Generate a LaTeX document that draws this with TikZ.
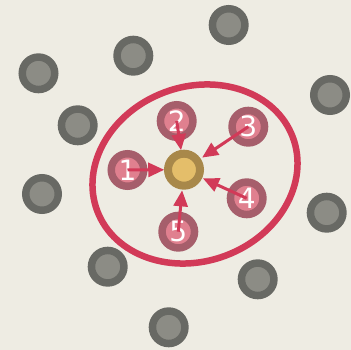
\documentclass[tikz,border=0pt]{standalone}
\usepackage{fontspec}
\setmainfont{DejaVu Sans}
\usetikzlibrary{arrows.meta}
\definecolor{bg}{HTML}{EEECE3}
\definecolor{grayout}{HTML}{686964}
\definecolor{grayin}{HTML}{8C8C85}
\definecolor{pinkout}{HTML}{A65E6B}
\definecolor{pinkin}{HTML}{E0808F}
\definecolor{goldout}{HTML}{A8884A}
\definecolor{goldin}{HTML}{E4BE6A}
\definecolor{redc}{HTML}{D23A58}
\tikzset{
  graynode/.style={circle, inner sep=0pt, outer sep=0pt, minimum size=32.5pt, line width=7.5pt, draw=grayout, fill=grayin},
  pinknode/.style={circle, inner sep=0pt, outer sep=0pt, minimum size=32.5pt, line width=7.5pt, draw=pinkout, fill=pinkin, text=white, font=\fontsize{28}{28}\selectfont},
  goldnode/.style={circle, inner sep=0pt, outer sep=3.75pt, minimum size=32pt, line width=8pt, draw=goldout, fill=goldin},
  arr/.style={draw=redc, line width=3pt, -{Triangle[length=16pt,width=14pt]}},
  ring/.style={draw=redc, line width=6.5pt}
}
\begin{document}
\begin{tikzpicture}[x=1pt,y=-1pt]
\fill[bg] (0,0) rectangle (351,350);
\useasboundingbox (0,0) rectangle (351,350);
\node[graynode] (g1) at (38.5,73.3) {};
\node[graynode] (g2) at (133.3,55.7) {};
\node[graynode] (g3) at (228.7,25) {};
\node[graynode] (g4) at (77.7,125.3) {};
\node[graynode] (g5) at (330,95) {};
\node[graynode] (g6) at (42,194) {};
\node[graynode] (g7) at (326.7,212.7) {};
\node[graynode] (g8) at (107.7,266.7) {};
\node[graynode] (g9) at (257.7,279.3) {};
\node[graynode] (g10) at (168.7,327.3) {};
\draw[ring, rotate around={20.6:(195,174)}] (195,174) ellipse [x radius=104.5, y radius=87.2];
\node[goldnode] (c) at (184,169.7) {};
\node[pinknode] (n1) at (127.5,170) {1};
\node[pinknode] (n2) at (176.7,121) {2};
\node[pinknode] (n3) at (248.3,126.7) {3};
\node[pinknode] (n4) at (246.7,198.3) {4};
\node[pinknode] (n5) at (178.3,231.7) {5};
\draw[arr] (n1.center) -- (c);
\draw[arr] (n2.center) -- (c);
\draw[arr, shorten >=2pt] (n3.center) -- (c);
\draw[arr, shorten >=1pt] (n4.center) -- (c);
\draw[arr, shorten >=1pt] (n5.center) -- (c);
\end{tikzpicture}
\end{document}
